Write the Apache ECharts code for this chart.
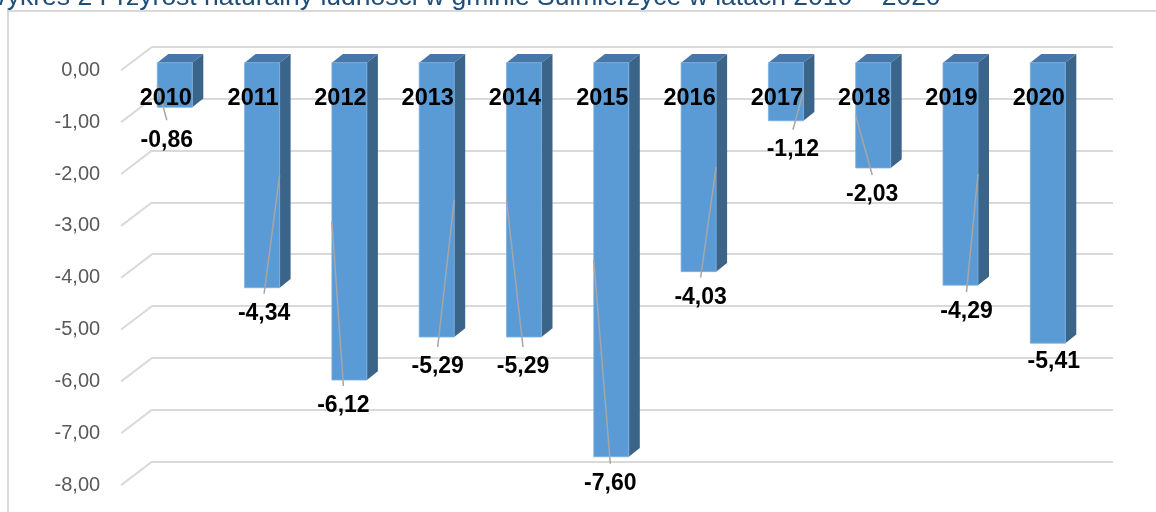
<!DOCTYPE html>
<html>
<head>
<meta charset="utf-8">
<script src="https://cdn.jsdelivr.net/npm/echarts@6/dist/echarts.min.js"></script>
<style>
  html, body { margin: 0; padding: 0; background: #fff; }
  #chart { width: 1156px; height: 512px; }
</style>
</head>
<body>
<div id="chart"></div>
<script>
// lata i przyrost naturalny
const years = ['2010', '2011', '2012', '2013', '2014', '2015', '2016', '2017', '2018', '2019', '2020']
const growth = [-0.86, -4.34, -6.12, -5.29, -5.29, -7.60, -4.03, -1.12, -2.03, -4.29, -5.41]
const yTicks = [0, -1, -2, -3, -4, -5, -6, -7, -8]

// przesuniecia etykiet wartosci (jak w oryginale)
const labelDx = [-8, 2, -6, 1, -1, -1, 2, 7, -1, 6, 6]
const labelDy = [33, 26, 26, 30, 30, 27, 26, 29, 27, 27, 18]

const font = "'Liberation Sans', Arial, sans-serif"
const barW = 35
const depthX = 11
const depthY = 8.7

const chart = echarts.init(document.getElementById('chart'))

const fmt = v => v.toFixed(2).replace('.', ',')

chart.setOption({
  animation: false,
  graphic: [
    {
      type: 'rect',
      shape: { x: 8, y: 11, width: 1200, height: 600 },
      style: { fill: 'none', stroke: '#d9d9d9', lineWidth: 2 },
      z: -10
    },
    {
      type: 'text',
      x: -18,
      y: 11,
      style: {
        text: 'Wykres 2 Przyrost naturalny ludności w gminie Sulmierzyce w latach 2010 – 2020',
        font: "26.5px " + font,
        fill: '#1F4E79',
        verticalAlign: 'bottom'
      }
    }
  ],
  grid: [
    // slupki
    { left: 131.15, right: 64.55, top: 62.7, height: 414.8 },
    // tylna sciana
    { left: 152, right: 43, top: 46.7, height: 414.8 },
    // przod: etykiety osi
    { left: 122.15, right: 73.55, top: 70.3, height: 414.8 }
  ],
  xAxis: [
    { gridIndex: 0, type: 'category', data: years, show: false },
    { gridIndex: 1, type: 'value', show: false },
    {
      gridIndex: 2,
      type: 'category',
      data: years,
      position: 'top',
      z: 10,
      axisLine: { show: false },
      axisTick: { show: false },
      axisLabel: {
        inside: true,
        margin: 16,
        color: '#000',
        fontWeight: 'bold',
        fontSize: 23.5,
        fontFamily: font
      }
    }
  ],
  yAxis: [
    { gridIndex: 0, type: 'value', min: -8, max: 0, interval: 1, show: false },
    {
      gridIndex: 1,
      type: 'value',
      min: -8,
      max: 0,
      interval: 1,
      axisLine: { show: false },
      axisTick: { show: false },
      axisLabel: { show: false },
      splitLine: { lineStyle: { color: '#d9d9d9', width: 2 } }
    },
    {
      gridIndex: 2,
      type: 'value',
      min: -8,
      max: 0,
      interval: 1,
      axisLine: { show: false },
      axisTick: { show: false },
      splitLine: { show: false },
      axisLabel: {
        margin: 22,
        color: '#595959',
        fontSize: 20,
        fontFamily: font,
        formatter: v => fmt(v)
      }
    }
  ],
  series: [
    {
      // ukosne linie siatki
      type: 'custom',
      xAxisIndex: 2,
      yAxisIndex: 2,
      z: 1,
      data: yTicks,
      renderItem: function (params, api) {
        const front = api.coord([0, api.value(0)])[1]
        const back = front - 23.6
        const x0 = params.coordSys.x - 1
        return {
          type: 'line',
          shape: { x1: x0, y1: front, x2: x0 + 31, y2: back },
          style: { stroke: '#d9d9d9', lineWidth: 2 }
        }
      },
      encode: { y: 0 }
    },
    {
      type: 'custom',
      xAxisIndex: 0,
      yAxisIndex: 0,
      z: 5,
      data: growth.map((v, i) => [i, v]),
      renderItem: function (params, api) {
        const i = api.value(0)
        const v = api.value(1)
        const top = api.coord([i, 0])
        const bot = api.coord([i, v])
        const cx = top[0]
        const yTop = top[1]
        const yBot = bot[1]
        const l = cx - barW / 2
        const r = cx + barW / 2
        const lx = cx + labelDx[i]
        const ly = yBot + labelDy[i]
        const children = [
          {
            type: 'polygon',
            shape: { points: [[l, yTop], [l + depthX, yTop - depthY], [r + depthX, yTop - depthY], [r, yTop]] },
            style: { fill: '#4677A8' }
          },
          {
            type: 'polygon',
            shape: { points: [[r, yTop], [r + depthX, yTop - depthY], [r + depthX, yBot - depthY], [r, yBot]] },
            style: { fill: '#3B6489' }
          },
          {
            type: 'rect',
            shape: { x: l, y: yTop, width: barW, height: yBot - yTop },
            style: { fill: '#5B9BD5', stroke: '#7aafe0', lineWidth: 0.8 }
          }
        ]
        const ls = ly - 20
        if (ls > yBot) {
          const ex = lx < cx ? l : r
          children.push({
            type: 'line',
            shape: { x1: lx, y1: ls, x2: ex, y2: (yTop + yBot) / 2 },
            style: { stroke: '#a6a6a6', lineWidth: 1.5 }
          })
        }
        children.push({
          type: 'text',
          x: lx,
          y: ly,
          style: {
            text: fmt(v),
            font: 'bold 23px ' + font,
            fill: '#000',
            align: 'center',
            verticalAlign: 'middle'
          }
        })
        return { type: 'group', children: children }
      },
      encode: { x: 0, y: 1 }
    }
  ]
})
</script>
</body>
</html>
